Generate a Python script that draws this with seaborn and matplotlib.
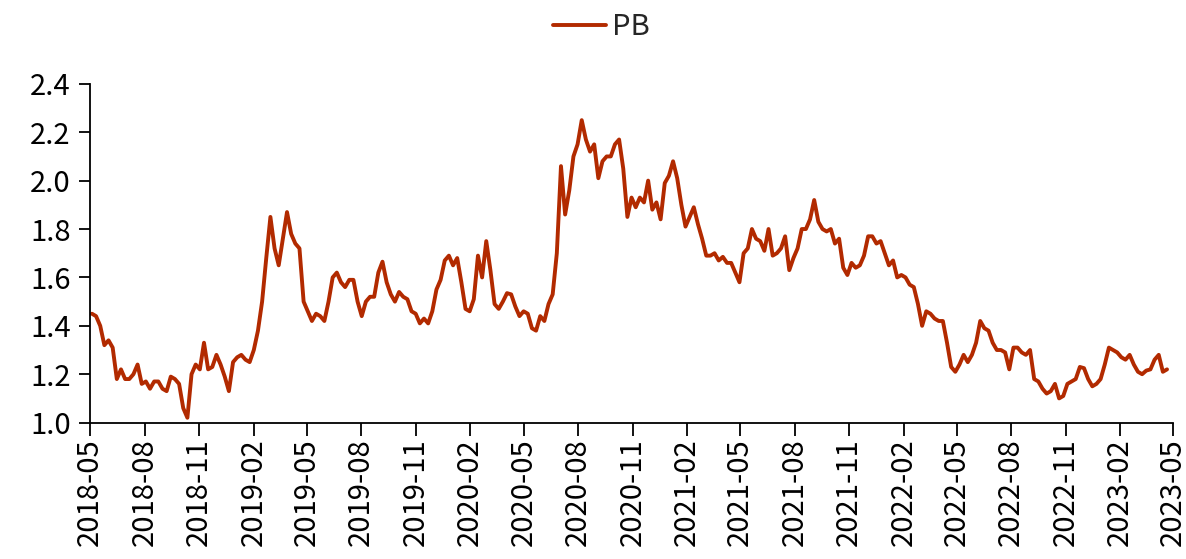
import pandas as pd
import numpy as np
import matplotlib
matplotlib.use("Agg")
import matplotlib.pyplot as plt
import matplotlib.dates as mdates
from matplotlib.ticker import FormatStrFormatter
import seaborn as sns

# Weekly PB readings, first week of May 2018 through April 2023
start_date = "2018-05-04"
pb = [
    1.45, 1.44, 1.40, 1.32, 1.34, 1.31, 1.18, 1.22, 1.18, 1.18,
    1.20, 1.24, 1.16, 1.17, 1.14, 1.17, 1.17, 1.14, 1.13, 1.19,
    1.18, 1.16, 1.06, 1.02, 1.20, 1.24, 1.22, 1.33, 1.22, 1.23,
    1.28, 1.24, 1.19, 1.13, 1.25, 1.27, 1.28, 1.26, 1.25, 1.30,
    1.38, 1.50, 1.68, 1.85, 1.72, 1.65, 1.76, 1.87, 1.78, 1.74,
    1.72, 1.50, 1.46, 1.42, 1.45, 1.44, 1.42, 1.50, 1.60, 1.62,
    1.58, 1.56, 1.59, 1.59, 1.50, 1.44, 1.50, 1.52, 1.52, 1.62,
    1.665, 1.58, 1.53, 1.50, 1.54, 1.52, 1.51, 1.46, 1.45, 1.41,
    1.43, 1.41, 1.46, 1.55, 1.59, 1.67, 1.69, 1.65, 1.68, 1.58,
    1.47, 1.46, 1.51, 1.69, 1.60, 1.75, 1.63, 1.49, 1.47, 1.50,
    1.535, 1.53, 1.48, 1.44, 1.46, 1.45, 1.39, 1.38, 1.44, 1.42,
    1.49, 1.53, 1.70, 2.06, 1.86, 1.96, 2.10, 2.15, 2.25, 2.17,
    2.12, 2.15, 2.01, 2.08, 2.10, 2.10, 2.15, 2.17, 2.05, 1.85,
    1.93, 1.89, 1.93, 1.91, 2.00, 1.88, 1.91, 1.84, 1.99, 2.02,
    2.08, 2.01, 1.90, 1.81, 1.85, 1.89, 1.82, 1.76, 1.69, 1.69,
    1.70, 1.67, 1.685, 1.66, 1.66, 1.62, 1.58, 1.70, 1.72, 1.80,
    1.76, 1.75, 1.71, 1.80, 1.69, 1.70, 1.72, 1.77, 1.63, 1.68,
    1.72, 1.80, 1.80, 1.84, 1.92, 1.83, 1.80, 1.79, 1.80, 1.74,
    1.76, 1.64, 1.61, 1.66, 1.64, 1.65, 1.69, 1.77, 1.77, 1.74,
    1.75, 1.70, 1.65, 1.67, 1.60, 1.61, 1.60, 1.57, 1.56, 1.49,
    1.40, 1.46, 1.45, 1.43, 1.42, 1.42, 1.33, 1.23, 1.21, 1.24,
    1.28, 1.25, 1.28, 1.33, 1.42, 1.39, 1.38, 1.33, 1.30, 1.30,
    1.29, 1.22, 1.31, 1.31, 1.29, 1.28, 1.30, 1.18, 1.17, 1.14,
    1.12, 1.13, 1.16, 1.10, 1.11, 1.16, 1.17, 1.18, 1.23, 1.225,
    1.18, 1.15, 1.16, 1.18, 1.24, 1.31, 1.30, 1.29, 1.27, 1.26,
    1.28, 1.24, 1.21, 1.20, 1.215, 1.22, 1.26, 1.28, 1.21, 1.22,
]
dates = pd.date_range(start_date, periods=len(pb), freq="W-FRI")
df = pd.DataFrame({"date": dates, "PB": pb})

sns.set_style("ticks")
plt.rcParams["font.family"] = ["Noto Sans CJK SC", "DejaVu Sans"]

fig = plt.figure(figsize=(11.86, 5.59), dpi=100)
ax = fig.add_axes([0.076, 0.244, 0.913, 0.606])

sns.lineplot(data=df, x="date", y="PB", color="#B22A00", linewidth=2.8, label="PB", ax=ax, legend=False)

ax.set_xlim(pd.Timestamp("2018-05-01"), pd.Timestamp("2023-05-01"))
ax.set_ylim(1.0, 2.4)
ax.set_yticks(np.arange(1.0, 2.41, 0.2))
ax.yaxis.set_major_formatter(FormatStrFormatter("%.1f"))
ax.xaxis.set_major_locator(mdates.MonthLocator(bymonth=[2, 5, 8, 11]))
ax.xaxis.set_major_formatter(mdates.DateFormatter("%Y-%m"))
ax.tick_params(axis="x", labelrotation=90, labelsize=21, length=9, width=1.3, colors="black", pad=2)
ax.tick_params(axis="y", labelsize=21, length=8, width=1.3, colors="black", pad=6)
ax.set_xlabel("")
ax.set_ylabel("")
sns.despine(ax=ax)
for side in ["left", "bottom"]:
    ax.spines[side].set_linewidth(1.3)
    ax.spines[side].set_color("black")

handles, labels = ax.get_legend_handles_labels()
fig.legend(handles, labels, loc="center", bbox_to_anchor=(0.507, 0.952), frameon=False,
           fontsize=21, handlelength=1.8, handletextpad=0.2)

fig.savefig("out.png", dpi=100)
